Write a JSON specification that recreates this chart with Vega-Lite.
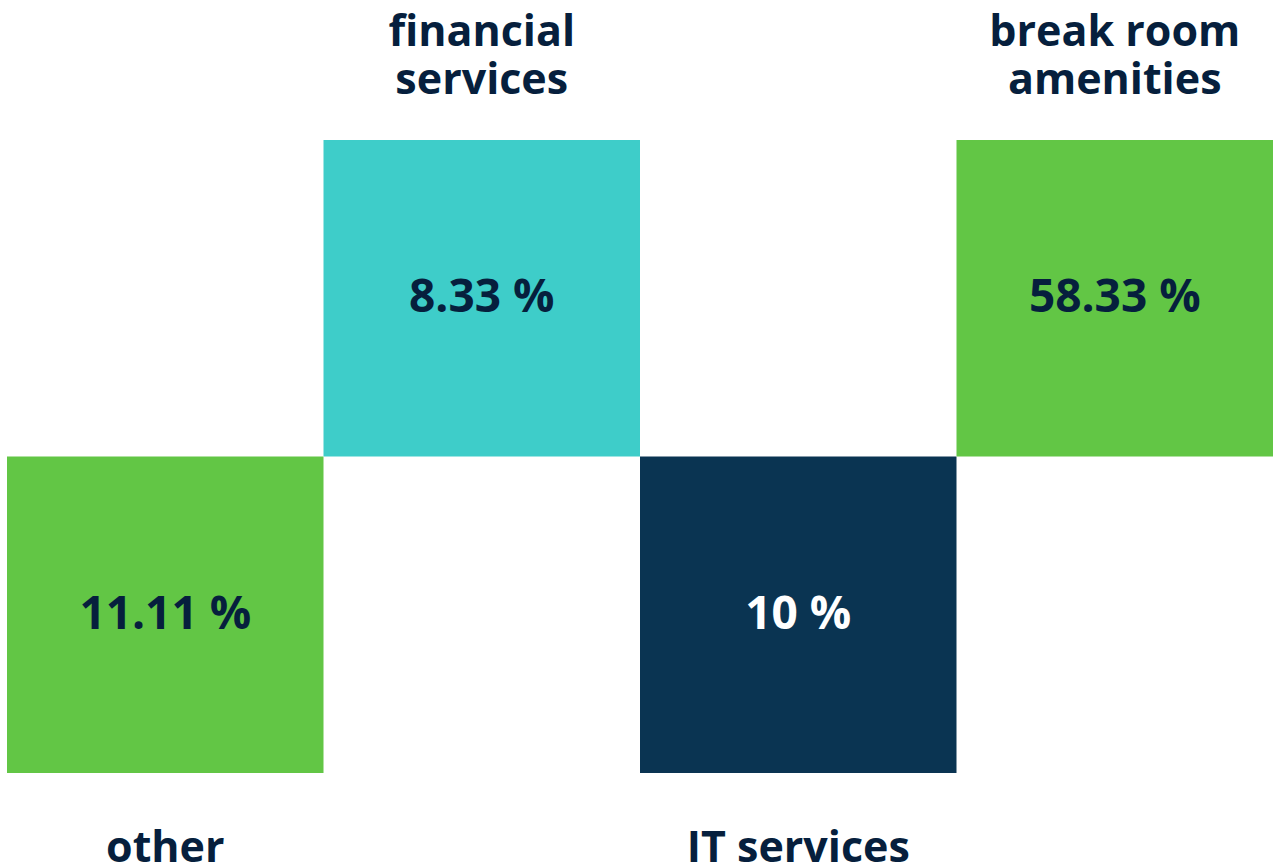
{
  "$schema": "https://vega.github.io/schema/vega-lite/v6.json",
  "width": 1266,
  "height": 633,
  "autosize": {"type": "none"},
  "padding": {"left": 7, "top": 140, "right": 0, "bottom": 94},
  "background": "white",
  "config": {"view": {"stroke": null}},
  "data": {
    "values": [
      {"label": "other", "title": ["other"], "tier": "bottom", "value": 11.11},
      {"label": "financial services", "title": ["financial", "services"], "tier": "top", "value": 8.33},
      {"label": "IT services", "title": ["IT services"], "tier": "bottom", "value": 10},
      {"label": "break room amenities", "title": ["break room", "amenities"], "tier": "top", "value": 58.33}
    ]
  },
  "transform": [
    {"calculate": "format(datum.value, '.2~f') + ' %'", "as": "pct"}
  ],
  "encoding": {
    "x": {
      "field": "label",
      "type": "nominal",
      "sort": ["other", "financial services", "IT services", "break room amenities"],
      "scale": {"paddingInner": 0, "paddingOuter": 0},
      "axis": null
    },
    "y": {
      "field": "tier",
      "type": "nominal",
      "sort": ["top", "bottom"],
      "scale": {"paddingInner": 0, "paddingOuter": 0},
      "axis": null
    }
  },
  "layer": [
    {
      "mark": {"type": "rect"},
      "encoding": {
        "color": {
          "field": "label",
          "type": "nominal",
          "scale": {
            "domain": ["other", "financial services", "IT services", "break room amenities"],
            "range": ["#62c645", "#3ecdc9", "#0a3452", "#62c645"]
          },
          "legend": null
        }
      }
    },
    {
      "mark": {"type": "text", "font": "Open Sans", "fontWeight": "bold", "fontSize": 46, "align": "center", "baseline": "middle"},
      "encoding": {
        "text": {"field": "pct"},
        "color": {
          "condition": {"test": "datum.label === 'IT services'", "value": "#ffffff"},
          "value": "#061f3d"
        }
      }
    },
    {
      "transform": [{"filter": "datum.tier === 'top'"}],
      "mark": {"type": "text", "font": "Open Sans", "fontWeight": "bold", "fontSize": 43, "align": "center", "baseline": "alphabetic", "lineHeight": 48, "dy": -252, "color": "#061f3d"},
      "encoding": {"text": {"field": "title"}}
    },
    {
      "transform": [{"filter": "datum.tier === 'bottom'"}],
      "mark": {"type": "text", "font": "Open Sans", "fontWeight": "bold", "fontSize": 43, "align": "center", "baseline": "alphabetic", "dy": 247, "color": "#061f3d"},
      "encoding": {"text": {"field": "title"}}
    }
  ]
}
